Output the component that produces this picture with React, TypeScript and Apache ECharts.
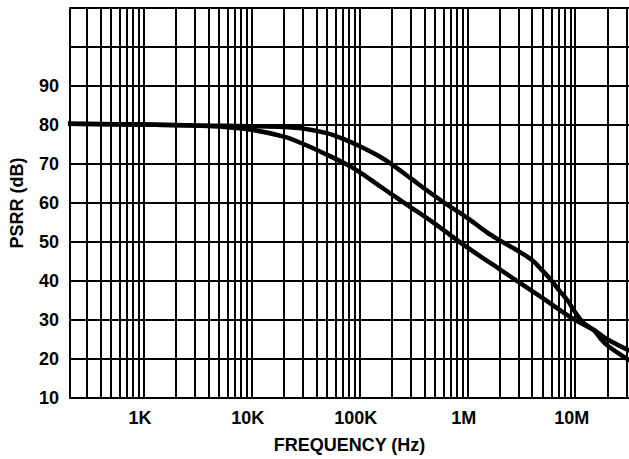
import React, { useEffect, useRef } from "react";
import * as echarts from "echarts";

// X axis: frequency (Hz), log scale
const xMin = 209;
const xMax = 3.15e7;
const decadeValues = [1e3, 1e4, 1e5, 1e6, 1e7];
const decadeLabels = ["1K", "10K", "100K", "1M", "10M"];
const gridMultipliers = [1, 2, 3, 4, 5, 6, 7, 8, 9];
const gridDecades = [1e2, 1e3, 1e4, 1e5, 1e6, 1e7];

// Y axis: PSRR (dB)
const yMin = 10;
const yMax = 110;
const yStep = 10;
const yLabelMax = 90;

// Curve A (upper in the mid band)
const freqA = [200, 1e3, 3e3, 1e4, 2e4, 3e4, 5e4, 7e4, 1e5, 1.5e5, 2e5, 3e5, 5e5, 7e5, 1e6, 1.5e6, 2e6, 3e6, 4e6, 5e6, 6e6, 7e6, 8.5e6, 1e7, 1.2e7, 1.5e7, 1.7e7, 2e7, 3.2e7];
const psrrA = [80.3, 80.1, 79.9, 79.7, 79.5, 79.1, 77.9, 76.5, 74.6, 72.1, 69.9, 66.3, 61.8, 59, 56.2, 52.6, 50.4, 47.6, 45.3, 42.6, 40.2, 37.8, 35, 32, 29.2, 27.3, 25.4, 23.4, 19.6];

// Curve B (lower in the mid band)
const freqB = [200, 1e3, 3e3, 5e3, 1e4, 2e4, 3e4, 5e4, 7.5e4, 1e5, 1.5e5, 2e5, 3e5, 5e5, 1e6, 2e6, 3e6, 5e6, 7e6, 1e7, 1.5e7, 2e7, 3.2e7];
const psrrB = [80.3, 80.1, 79.9, 79.6, 78.8, 77, 75.2, 72.4, 70, 68, 64.6, 62.2, 58.9, 54.7, 48.6, 43, 39.7, 35.6, 32.8, 30, 27.4, 25, 22.1];

const gridFreqs: number[] = [];
gridDecades.forEach((d) =>
  gridMultipliers.forEach((m) => {
    const f = d * m;
    if (f > xMin && f < xMax) gridFreqs.push(f);
  })
);

function decadeLabel(v: number): string {
  for (let i = 0; i < decadeValues.length; i++) {
    if (Math.abs(v / decadeValues[i] - 1) < 1e-6) return decadeLabels[i];
  }
  return "";
}

const FONT = "Liberation Sans, Arial, sans-serif";

export default function App() {
  const ref = useRef<HTMLDivElement>(null);
  useEffect(() => {
    if (!ref.current) return;
    const chart = echarts.init(ref.current, null, { renderer: "svg" });
    const lineStyle = { color: "#000", width: 4.5 };
    chart.setOption({
      animation: false,
      backgroundColor: "#fff",
      grid: { left: 68, right: 0, top: 8, bottom: 61, containLabel: false },
      xAxis: {
        type: "log",
        logBase: 10,
        min: xMin,
        max: xMax,
        name: "FREQUENCY (Hz)",
        nameLocation: "middle",
        nameGap: 38,
        nameTextStyle: { color: "#000", fontWeight: "bold", fontSize: 18, fontFamily: FONT },
        axisLine: { show: true, lineStyle: { color: "#000", width: 2 } },
        axisTick: { show: false },
        splitLine: { show: false },
        minorSplitLine: { show: false },
        axisLabel: {
          color: "#000",
          fontWeight: "bold",
          fontSize: 18,
          fontFamily: FONT,
          margin: 11,
          padding: [0, 7, 0, 0],
          showMinLabel: false,
          showMaxLabel: false,
          formatter: (v: number) => decadeLabel(v),
        },
      },
      yAxis: {
        type: "value",
        min: yMin,
        max: yMax,
        interval: yStep,
        name: "PSRR (dB)",
        nameLocation: "middle",
        nameGap: 44,
        nameRotate: 90,
        nameTextStyle: { color: "#000", fontWeight: "bold", fontSize: 18, fontFamily: FONT },
        axisLine: { show: true, lineStyle: { color: "#000", width: 2 } },
        axisTick: { show: false },
        splitLine: { show: true, lineStyle: { color: "#000", width: 2 } },
        axisLabel: {
          color: "#000",
          fontWeight: "bold",
          fontSize: 18,
          fontFamily: FONT,
          margin: 11,
          formatter: (v: number) => (v <= yLabelMax ? String(v) : ""),
        },
      },
      series: [
        {
          type: "line",
          data: freqA.map((f, i) => [f, psrrA[i]]),
          showSymbol: false,
          smooth: 0.35,
          lineStyle,
          z: 3,
          markLine: {
            silent: true,
            symbol: ["none", "none"],
            label: { show: false },
            lineStyle: { color: "#000", width: 2, type: "solid" },
            emphasis: { disabled: true },
            data: gridFreqs.map((f) => ({ xAxis: f })),
            z: 1,
          },
        },
        {
          type: "line",
          data: freqB.map((f, i) => [f, psrrB[i]]),
          showSymbol: false,
          smooth: 0.35,
          lineStyle,
          z: 3,
        },
      ],
    });
    return () => chart.dispose();
  }, []);
  return (
    <div
      ref={ref}
      style={{ position: "fixed", left: 0, top: 0, width: 629, height: 459 }}
    />
  );
}
